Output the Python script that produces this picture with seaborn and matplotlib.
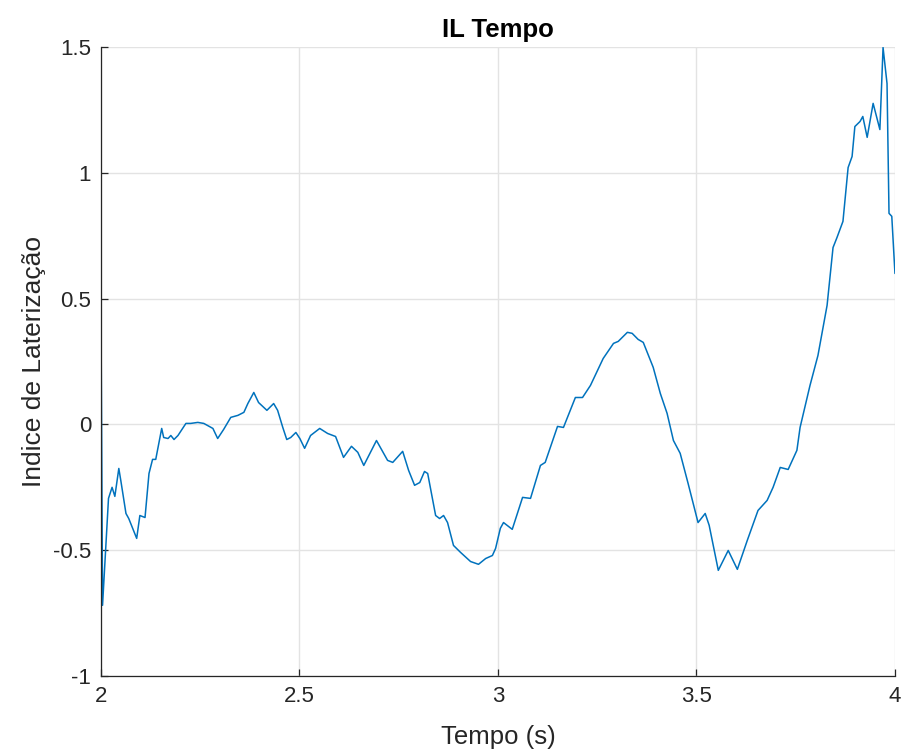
import numpy as np
import pandas as pd
import matplotlib
matplotlib.use("Agg")
import matplotlib.pyplot as plt
import seaborn as sns

# Lateralization index over time
tempo = [
    2.000, 2.004, 2.019, 2.028, 2.035, 2.045, 2.050, 2.063, 2.070, 2.090,
    2.098, 2.111, 2.121, 2.130, 2.138, 2.153, 2.158, 2.169, 2.176, 2.184,
    2.194, 2.214, 2.226, 2.244, 2.259, 2.282, 2.294, 2.309, 2.327, 2.345,
    2.360, 2.370, 2.385, 2.397, 2.418, 2.435, 2.445, 2.458, 2.468, 2.478,
    2.491, 2.501, 2.513, 2.528, 2.551, 2.571, 2.591, 2.611, 2.631, 2.647,
    2.662, 2.694, 2.722, 2.735, 2.760, 2.775, 2.790, 2.803, 2.815, 2.823,
    2.843, 2.853, 2.863, 2.873, 2.888, 2.906, 2.931, 2.951, 2.969, 2.986,
    2.994, 3.006, 3.014, 3.036, 3.062, 3.082, 3.107, 3.119, 3.150, 3.165,
    3.195, 3.213, 3.233, 3.265, 3.291, 3.303, 3.326, 3.338, 3.353, 3.366,
    3.391, 3.409, 3.426, 3.442, 3.459, 3.479, 3.504, 3.522, 3.532, 3.555,
    3.580, 3.603, 3.628, 3.655, 3.678, 3.693, 3.711, 3.731, 3.753, 3.761,
    3.786, 3.806, 3.829, 3.844, 3.854, 3.869, 3.882, 3.892, 3.899, 3.912,
    3.919, 3.930, 3.945, 3.962, 3.970, 3.980, 3.985, 3.992, 4.000,
]
indice = [
    0.453, -0.719, -0.294, -0.250, -0.286, -0.175, -0.223, -0.354, -0.374, -0.453,
    -0.362, -0.370, -0.195, -0.139, -0.139, -0.016, -0.052, -0.056, -0.044, -0.060,
    -0.044, 0.004, 0.004, 0.008, 0.004, -0.016, -0.056, -0.020, 0.028, 0.036,
    0.048, 0.083, 0.127, 0.087, 0.056, 0.083, 0.056, -0.012, -0.060, -0.052,
    -0.032, -0.056, -0.095, -0.044, -0.016, -0.036, -0.048, -0.131, -0.087, -0.111,
    -0.163, -0.064, -0.143, -0.151, -0.107, -0.183, -0.242, -0.231, -0.187, -0.195,
    -0.362, -0.374, -0.362, -0.390, -0.481, -0.509, -0.545, -0.556, -0.533, -0.521,
    -0.493, -0.413, -0.390, -0.417, -0.290, -0.294, -0.163, -0.151, -0.008, -0.012,
    0.107, 0.107, 0.155, 0.262, 0.322, 0.330, 0.366, 0.362, 0.338, 0.326,
    0.227, 0.123, 0.044, -0.064, -0.115, -0.235, -0.390, -0.354, -0.401, -0.580,
    -0.501, -0.576, -0.461, -0.342, -0.302, -0.250, -0.171, -0.179, -0.103, -0.012,
    0.155, 0.274, 0.473, 0.703, 0.743, 0.807, 1.021, 1.065, 1.184, 1.204,
    1.224, 1.141, 1.276, 1.172, 1.498, 1.355, 0.839, 0.827, 0.600,
]

x_ticks = [2, 2.5, 3, 3.5, 4]
x_tick_labels = ["2", "2.5", "3", "3.5", "4"]
y_ticks = [-1, -0.5, 0, 0.5, 1, 1.5]
y_tick_labels = ["-1", "-0.5", "0", "0.5", "1", "1.5"]

sns.set_theme(style="white")
plt.rcParams["font.family"] = ["Liberation Sans", "DejaVu Sans"]

df = pd.DataFrame({"Tempo": tempo, "IL": indice})

fig = plt.figure(figsize=(9.03, 7.56), dpi=100)
ax = fig.add_axes([0.1118, 0.1058, 0.8793, 0.8320])

sns.lineplot(data=df, x="Tempo", y="IL", ax=ax, color="#0072BD",
             linewidth=1.1, estimator=None, sort=False)

ax.set_xlim(2, 4)
ax.set_ylim(-1, 1.5)
ax.set_xticks(x_ticks)
ax.set_xticklabels(x_tick_labels)
ax.set_yticks(y_ticks)
ax.set_yticklabels(y_tick_labels)

ax.grid(True, color="#e3e3e3", linewidth=1.0)
ax.set_axisbelow(True)

for side in ("top", "right"):
    ax.spines[side].set_visible(False)
for side in ("left", "bottom"):
    ax.spines[side].set_color("#262626")
    ax.spines[side].set_linewidth(0.9)

ax.tick_params(axis="both", direction="in", length=5, width=0.9,
               colors="#262626", labelsize=16, labelcolor="#262626")
ax.tick_params(axis="x", pad=7, bottom=True)
ax.tick_params(axis="y", pad=7, left=True)

ax.set_title("IL Tempo", fontsize=18.5, fontweight="bold", color="black", pad=7)
ax.set_xlabel("Tempo (s)", fontsize=18.5, color="#262626", labelpad=13)
ax.set_ylabel("Indice de Laterização", fontsize=19, color="#262626", labelpad=5)

fig.savefig("out.png", dpi=100)
